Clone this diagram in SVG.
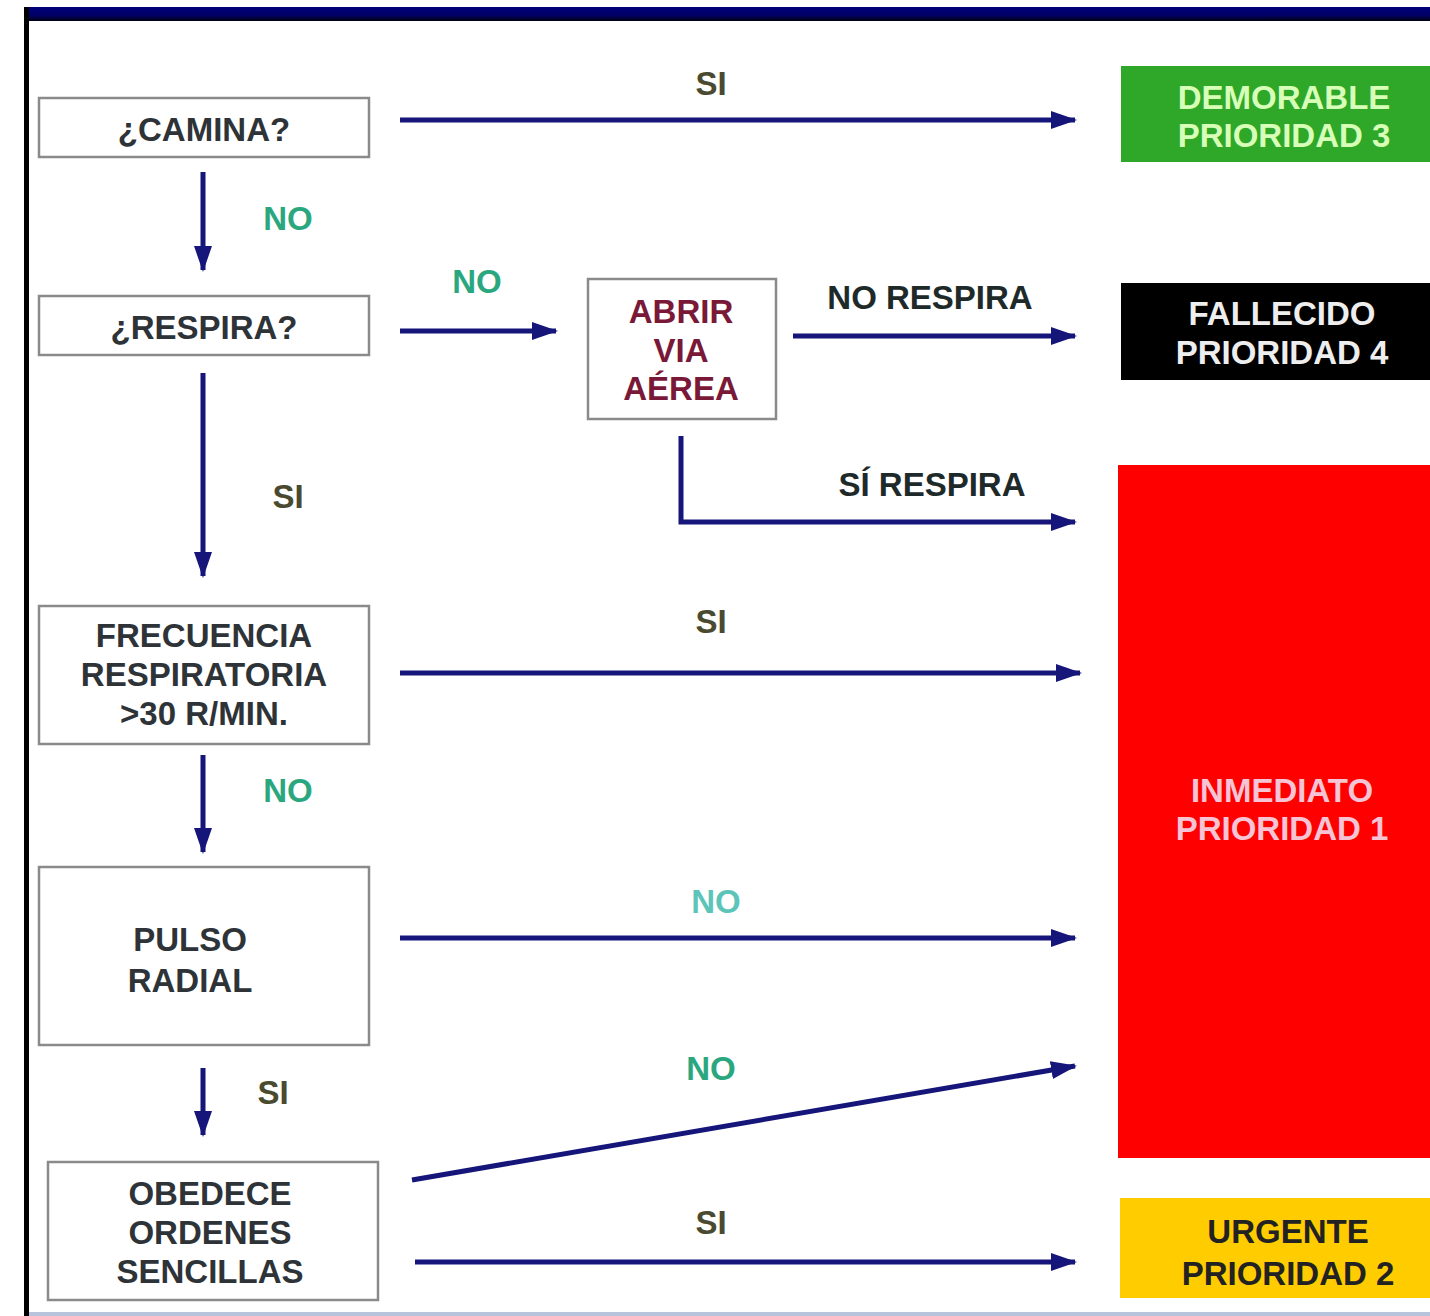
<svg xmlns="http://www.w3.org/2000/svg" width="1430" height="1316" viewBox="0 0 1430 1316">
<defs>
<linearGradient id="band" x1="0" y1="0" x2="0" y2="1">
<stop offset="0" stop-color="#00007a"/>
<stop offset="0.6" stop-color="#000066"/>
<stop offset="1" stop-color="#000010"/>
</linearGradient>
<marker id="ah" viewBox="0 0 26 18" refX="24" refY="9" markerWidth="26" markerHeight="18" markerUnits="userSpaceOnUse" orient="auto">
<path d="M0,0 L26,9 L0,18 Z" fill="#15157a"/>
</marker>
</defs>
<style>
text{font-family:"Liberation Sans",Arial,sans-serif;font-weight:bold;text-anchor:middle}
.box{fill:#fff;stroke:#8a8a8a;stroke-width:2.5}
.t{font-size:33px;fill:#2e3338}
.lbl{font-size:33px}
.si{fill:#4a4a30}
.no{fill:#2aa77e}
.dark{fill:#1e2a2a}
.ca{stroke:#15157a;stroke-width:5;fill:none;marker-end:url(#ah)}
</style>
<rect width="1430" height="1316" fill="#fff"/>
<rect x="24" y="7" width="1406" height="14" fill="url(#band)"/>
<rect x="24" y="7" width="5" height="1309" fill="#000"/>
<rect x="29" y="1312" width="1401" height="4" fill="#b8c4dc"/>

<g id="camina"><rect class="box" x="39" y="98" width="330" height="59"/><text class="t" x="204" y="141">¿CAMINA?</text></g>
<g id="respira"><rect class="box" x="39" y="296" width="330" height="59"/><text class="t" x="204" y="339">¿RESPIRA?</text></g>
<g id="frecuencia"><rect class="box" x="39" y="606" width="330" height="138"/><text class="t" x="204" y="647">FRECUENCIA</text><text class="t" x="204" y="686">RESPIRATORIA</text><text class="t" x="204" y="725">&gt;30 R/MIN.</text></g>
<g id="pulso"><rect class="box" x="39" y="867" width="330" height="178"/><text class="t" x="190" y="951">PULSO</text><text class="t" x="190" y="992">RADIAL</text></g>
<g id="obedece"><rect class="box" x="48" y="1162" width="330" height="138"/><text class="t" x="210" y="1205">OBEDECE</text><text class="t" x="210" y="1244">ORDENES</text><text class="t" x="210" y="1283">SENCILLAS</text></g>
<g id="abrir"><rect class="box" x="588" y="279" width="188" height="140"/><text class="t" x="681" y="323" style="fill:#7a1838">ABRIR</text><text class="t" x="681" y="362" style="fill:#7a1838">VIA</text><text class="t" x="681" y="400" style="fill:#7a1838">AÉREA</text></g>

<g id="demorable"><rect x="1121" y="66" width="309" height="96" fill="#2fa82a"/><text class="t" x="1284" y="109" style="fill:#d8ffb8">DEMORABLE</text><text class="t" x="1284" y="147" style="fill:#d8ffb8">PRIORIDAD 3</text></g>
<g id="fallecido"><rect x="1121" y="283" width="309" height="97" fill="#000"/><text class="t" x="1282" y="325" style="fill:#eeeeee">FALLECIDO</text><text class="t" x="1282" y="364" style="fill:#eeeeee">PRIORIDAD 4</text></g>
<g id="inmediato"><rect x="1118" y="465" width="312" height="693" fill="#ff0000"/><text class="t" x="1282" y="802" style="fill:#f7c4d6">INMEDIATO</text><text class="t" x="1282" y="840" style="fill:#f7c4d6">PRIORIDAD 1</text></g>
<g id="urgente"><rect x="1120" y="1198" width="310" height="100" fill="#ffcc00"/><text class="t" x="1288" y="1243" style="fill:#222">URGENTE</text><text class="t" x="1288" y="1285" style="fill:#222">PRIORIDAD 2</text></g>

<g id="connectors">
<line class="ca" x1="400" y1="120" x2="1075" y2="120"/>
<line class="ca" x1="203" y1="172" x2="203" y2="270"/>
<line class="ca" x1="400" y1="331" x2="556" y2="331"/>
<line class="ca" x1="793" y1="336" x2="1075" y2="336"/>
<polyline class="ca" points="681,436 681,522 1075,522"/>
<line class="ca" x1="203" y1="373" x2="203" y2="576"/>
<line class="ca" x1="400" y1="673" x2="1080" y2="673"/>
<line class="ca" x1="203" y1="755" x2="203" y2="852"/>
<line class="ca" x1="400" y1="938" x2="1075" y2="938"/>
<line class="ca" x1="203" y1="1068" x2="203" y2="1135"/>
<line class="ca" x1="412" y1="1180" x2="1075" y2="1066"/>
<line class="ca" x1="415" y1="1262" x2="1075" y2="1262"/>
</g>

<g id="labels">
<text class="lbl si" x="711" y="95">SI</text>
<text class="lbl no" x="288" y="230">NO</text>
<text class="lbl no" x="477" y="293">NO</text>
<text class="lbl dark" x="930" y="309">NO RESPIRA</text>
<text class="lbl dark" x="932" y="496">SÍ RESPIRA</text>
<text class="lbl si" x="288" y="508">SI</text>
<text class="lbl si" x="711" y="633">SI</text>
<text class="lbl no" x="288" y="802">NO</text>
<text class="lbl no" x="716" y="913" style="fill:#5cc4b8">NO</text>
<text class="lbl no" x="711" y="1080">NO</text>
<text class="lbl si" x="273" y="1104">SI</text>
<text class="lbl si" x="711" y="1234">SI</text>
</g>
</svg>
